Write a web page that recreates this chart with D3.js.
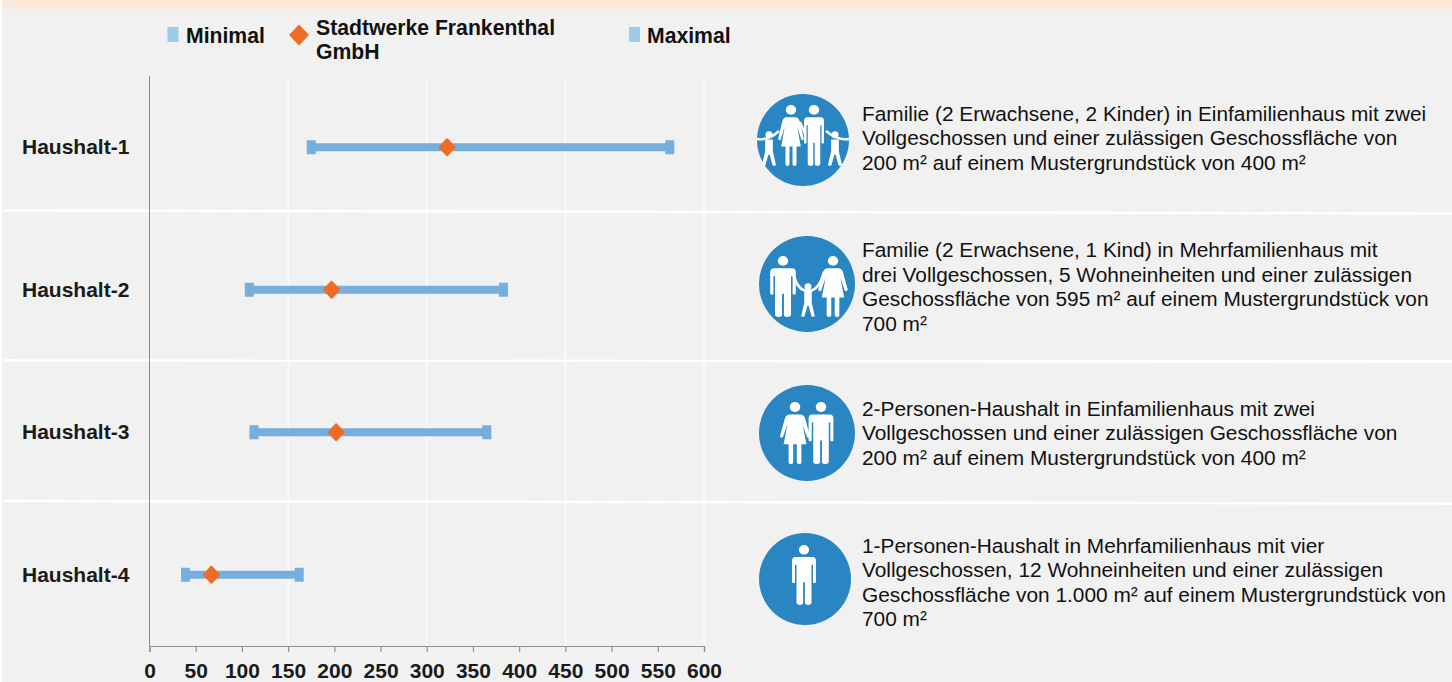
<!DOCTYPE html>
<html>
<head>
<meta charset="utf-8">
<script src="https://cdn.jsdelivr.net/npm/d3@7"></script>
<style>
  html, body { margin: 0; padding: 0; background: #fff; overflow: hidden; }
  svg { display: block; font-family: "Liberation Sans", Arial, sans-serif; }
</style>
</head>
<body>
<div class="container"></div>
<script>
// data
const households = ["Haushalt-1", "Haushalt-2", "Haushalt-3", "Haushalt-4"];
const minimal = [175, 108, 113, 39];
const frankenthal = [322, 197, 202, 67];
const maximal = [563, 383, 365, 162];
const xTicks = [0, 50, 100, 150, 200, 250, 300, 350, 400, 450, 500, 550, 600];
const gridTicks = [150, 300, 450, 600];
const legendLabels = ["Minimal", "Stadtwerke Frankenthal", "GmbH", "Maximal"];
const descriptions = [
    ["Familie (2 Erwachsene, 2 Kinder) in Einfamilienhaus mit zwei",
     "Vollgeschossen und einer zulässigen Geschossfläche von",
     "200 m² auf einem Mustergrundstück von 400 m²"],
    ["Familie (2 Erwachsene, 1 Kind) in Mehrfamilienhaus mit",
     "drei Vollgeschossen, 5 Wohneinheiten und einer zulässigen",
     "Geschossfläche von 595 m² auf einem Mustergrundstück von",
     "700 m²"],
    ["2-Personen-Haushalt in Einfamilienhaus mit zwei",
     "Vollgeschossen und einer zulässigen Geschossfläche von",
     "200 m² auf einem Mustergrundstück von 400 m²"],
    ["1-Personen-Haushalt in Mehrfamilienhaus mit vier",
     "Vollgeschossen, 12 Wohneinheiten und einer zulässigen",
     "Geschossfläche von 1.000 m² auf einem Mustergrundstück von",
     "700 m²"]
];

const width = 1452, height = 682;
const blue = "#76afdd", legendBlue = "#9dcbea", orange = "#ee6c25", iconBlue = "#2a86c3";

const svg = d3.select(".container")
    .append("svg")
    .attr("width", width)
    .attr("height", height);

// panel and the band along the top
svg.append("rect").attr("x", 2).attr("y", 0).attr("width", width - 2).attr("height", height).attr("fill", "#f1f1f1");
svg.append("rect").attr("x", 2).attr("y", 0).attr("width", width - 2).attr("height", 9).attr("fill", "#fde9da");

// scales
const x = d3.scaleLinear().domain([0, 600]).range([149.5, 704]);
const y = d3.scaleBand().domain(households).range([76, 646]);
const rowY = d => y(d) + y.bandwidth() / 2;

// gridlines
svg.append("g")
    .selectAll("line")
    .data(gridTicks)
    .enter()
    .append("line")
    .attr("x1", d => x(d))
    .attr("x2", d => x(d))
    .attr("y1", 80)
    .attr("y2", 646)
    .attr("stroke", "#fff")
    .attr("stroke-width", 1);

// white separators, they run slightly downhill in the source
[[210.5, 213.5], [360.5, 361.5], [501, 503.5]].forEach(s => {
    svg.append("line")
        .attr("x1", 3).attr("x2", width)
        .attr("y1", s[0]).attr("y2", s[1])
        .attr("stroke", "#fff")
        .attr("stroke-width", 2.5);
});

// axes
const xAxis = d3.axisBottom(x).tickValues(xTicks).tickSize(6).tickPadding(10.6).tickFormat(d3.format("d"));
const xAxisG = svg.append("g")
    .attr("transform", "translate(0, 646)")
    .call(xAxis);
xAxisG.selectAll("path, line").attr("stroke", "#8f8f8f").attr("stroke-width", 1.2);
xAxisG.selectAll("text")
    .attr("font-family", "Liberation Sans")
    .attr("font-size", 21)
    .attr("font-weight", "bold")
    .attr("fill", "#1a1a1a");

svg.append("line")
    .attr("x1", x(0)).attr("x2", x(0))
    .attr("y1", 76).attr("y2", 646)
    .attr("stroke", "#8a8a8a")
    .attr("stroke-width", 1);

// row labels
svg.append("g")
    .selectAll("text")
    .data(households)
    .enter()
    .append("text")
    .text(d => d)
    .attr("x", 22)
    .attr("y", d => rowY(d) + 7)
    .attr("font-size", 21)
    .attr("font-weight", "bold")
    .attr("fill", "#1a1a1a");

// range bars with end caps and the orange diamond
const rows = svg.append("g")
    .selectAll("g")
    .data(households)
    .enter()
    .append("g");

rows.append("rect")
    .attr("x", (d, i) => x(minimal[i]))
    .attr("width", (d, i) => x(maximal[i]) - x(minimal[i]))
    .attr("y", d => rowY(d) - 4)
    .attr("height", 8)
    .attr("fill", blue);

[minimal, maximal].forEach(series => {
    rows.append("rect")
        .attr("x", (d, i) => x(series[i]) - 4.5)
        .attr("width", 9)
        .attr("y", d => rowY(d) - 7)
        .attr("height", 14)
        .attr("fill", blue);
});

rows.append("path")
    .attr("d", "M0,-8 L7.5,0 L0,8 L-7.5,0 Z")
    .attr("stroke", orange)
    .attr("stroke-width", 2)
    .attr("stroke-linejoin", "round")
    .attr("fill", orange)
    .attr("transform", (d, i) => `translate(${x(frankenthal[i])}, ${rowY(d)})`);

// legend
const legend = svg.append("g").attr("font-size", 21.2).attr("font-weight", "bold").attr("fill", "#111");
legend.append("rect").attr("x", 167.5).attr("y", 27).attr("width", 11).attr("height", 15).attr("fill", legendBlue);
legend.append("text").text(legendLabels[0]).attr("x", 186).attr("y", 43);
legend.append("path").attr("d", "M299,24.5 L309,35 L299,45.5 L289,35 Z").attr("fill", orange);
legend.append("text").text(legendLabels[1]).attr("x", 316).attr("y", 35);
legend.append("text").text(legendLabels[2]).attr("x", 316).attr("y", 59);
legend.append("rect").attr("x", 629).attr("y", 27).attr("width", 11).attr("height", 15).attr("fill", legendBlue);
legend.append("text").text(legendLabels[3]).attr("x", 647).attr("y", 43);

// descriptions
const firstBaseline = [120.5, 257, 415.5, 552.5];
svg.append("g")
    .selectAll("g")
    .data(descriptions)
    .enter()
    .append("g")
    .each(function(lines, i) {
        d3.select(this).selectAll("text")
            .data(lines)
            .enter()
            .append("text")
            .text(d => d)
            .attr("x", 862)
            .attr("y", (d, j) => firstBaseline[i] + j * 24.6)
            .attr("font-size", 20.85)
            .attr("fill", "#111");
    });

// pictograms: every figure is drawn in a box 100 units tall, top centre at the origin
function figure(g, cx, top, h, sx) {
    return g.append("g")
        .attr("transform", `translate(${cx}, ${top}) scale(${h / 100 * sx}, ${h / 100})`)
        .attr("fill", "#fff");
}

function man(g, cx, top, h, sx = 1) {
    const p = figure(g, cx, top, h, sx);
    p.append("ellipse").attr("cx", 0).attr("cy", 8).attr("rx", 8.5 / sx).attr("ry", 8);
    p.append("path").attr("d",
        "M-14,20 H14 Q20,20 20,27 V62 Q17.5,65 15,62 V33 H12.5 V60 V97 Q11,100 7,100 Q2,100 1.5,97 V62 H-1.5 V97 Q-2,100 -7,100 Q-11,100 -12.5,97 V33 H-15 V62 Q-17.5,65 -20,62 V27 Q-20,20 -14,20 Z");
}

function woman(g, cx, top, h, sx = 1) {
    const p = figure(g, cx, top, h, sx);
    p.append("ellipse").attr("cx", 0).attr("cy", 8).attr("rx", 8.5 / sx).attr("ry", 8);
    p.append("path").attr("d",
        "M-8,20 H8 Q12,20 14,26 L21,55 Q20,59 17,57 L10.5,36 L16,68 H9 V97 Q9,100 6,100 Q2.5,100 2.5,97 V68 H-2.5 V97 Q-2.5,100 -6,100 Q-9,100 -9,97 V68 H-16 L-10.5,36 L-17,57 Q-20,59 -21,55 L-14,26 Q-12,20 -8,20 Z");
}

function child(g, cx, top, h) {
    const p = figure(g, cx, top, h, 1);
    p.append("circle").attr("cx", 0).attr("cy", 11).attr("r", 10);
    p.append("path").attr("d",
        "M-11,24 H11 V58 L20,97 Q14,102 10,97 L2,68 H-2 L-10,97 Q-14,102 -20,97 L-11,58 Z");
}

const icons = svg.append("g");
icons.append("circle").attr("cx", 803).attr("cy", 140).attr("r", 46).attr("fill", iconBlue);
icons.append("circle").attr("cx", 807).attr("cy", 284).attr("r", 48).attr("fill", iconBlue);
icons.append("circle").attr("cx", 807).attr("cy", 433).attr("r", 48).attr("fill", iconBlue);
icons.append("circle").attr("cx", 805).attr("cy", 579).attr("r", 46).attr("fill", iconBlue);

// family of four, arms joined along one line
icons.append("path")
    .attr("d", "M757,139 Q768,141 779,131 M826,131 Q838,141 849,139 M800,122 L805,134")
    .attr("stroke", "#fff").attr("stroke-width", 2.4).attr("fill", "none");
woman(icons, 791, 105, 61);
man(icons, 814, 105, 61, 0.82);
child(icons, 769, 131, 35);
child(icons, 835, 131, 35);

// family of three
icons.append("path")
    .attr("d", "M793,272 Q797,291 808,291 Q819,291 824,272")
    .attr("stroke", "#fff").attr("stroke-width", 2.8).attr("fill", "none");
man(icons, 783, 256, 61, 1.05);
woman(icons, 833, 256, 61, 1.15);
child(icons, 808, 283, 34);

// couple
icons.append("path")
    .attr("d", "M804,425 L809,436")
    .attr("stroke", "#fff").attr("stroke-width", 3).attr("fill", "none");
woman(icons, 795, 402, 62, 1.15);
man(icons, 821, 402, 62);

// single person
man(icons, 804, 545, 60);
</script>
</body>
</html>
